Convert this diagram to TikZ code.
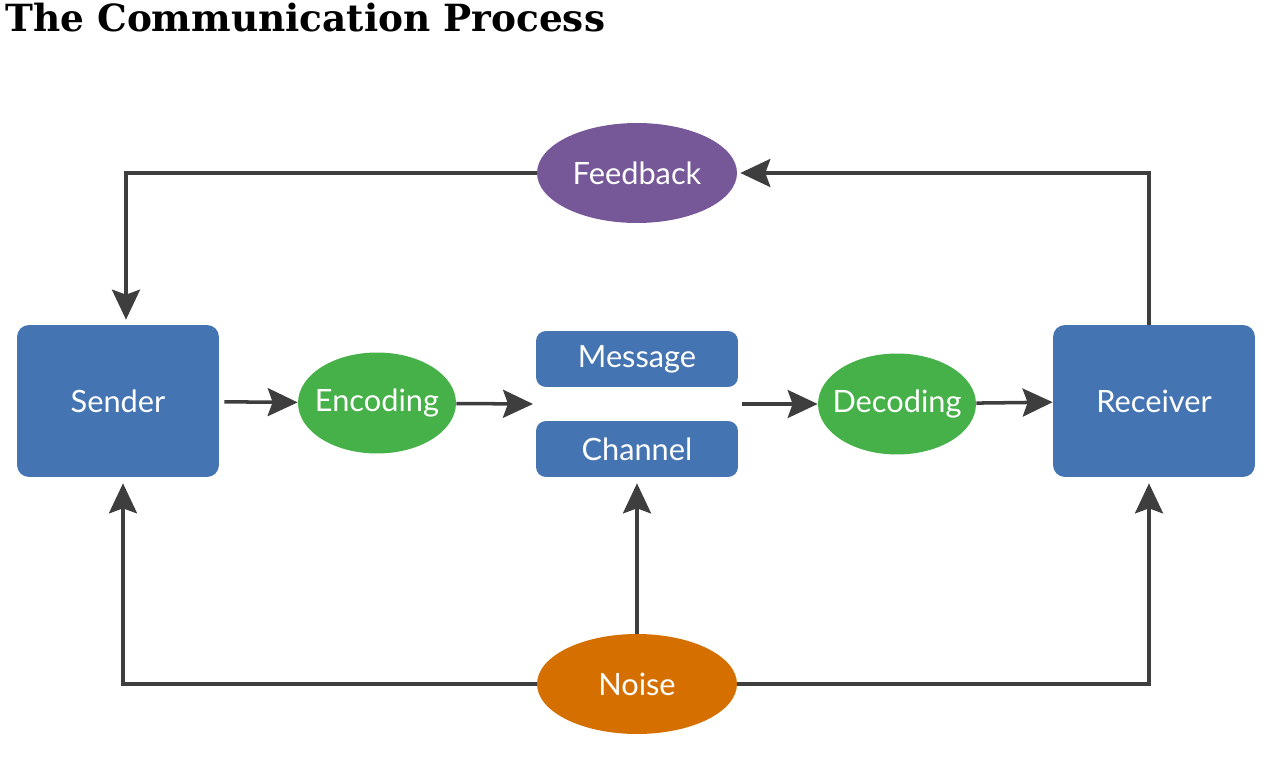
\documentclass[tikz,border=0pt]{standalone}
\usepackage{fontspec}
\setmainfont{DejaVu Serif}
\newfontfamily\labelfont{Lato}
\usetikzlibrary{arrows.meta,shapes.geometric}

\definecolor{boxblue}{HTML}{4574B2}
\definecolor{codegreen}{HTML}{46B149}
\definecolor{fbpurple}{HTML}{765797}
\definecolor{noiseorange}{HTML}{D57000}
\definecolor{linegray}{HTML}{3E3E3E}

\begin{document}
\begin{tikzpicture}[
    x=0.02cm, y=-0.02cm,
    every node/.style={text=white, font=\labelfont\fontsize{17.5}{21}\selectfont},
    box/.style={rectangle, rounded corners=2.4mm, fill=boxblue, minimum width=4.04cm, minimum height=3.04cm, inner sep=0pt},
    bar/.style={box, rounded corners=2mm, minimum height=1.12cm},
    oval/.style={ellipse, fill=#1, minimum width=3.16cm, minimum height=2.02cm, inner xsep=-2mm, inner ysep=0pt},
    bigoval/.style={oval=#1, minimum width=4cm, minimum height=2cm},
    arrow/.style={draw=linegray, line width=2pt, -{Stealth[length=6mm, width=5.6mm, inset=1mm]}}
]

\useasboundingbox (0,0) rectangle (1282,767);

% ----- title -----
\node[anchor=base west, text=black, font=\bfseries\fontsize{21.3}{25}\selectfont, inner sep=0pt] (title) at (5,32) {The Communication Process};

% ----- middle row -----
\node[box] (sender) at (118,401) {Sender};
\node[oval=codegreen] (encoding) at (377,403) {Encoding};
\node[bar] (message) at (637,359) {Message};
\node[bar] (channel) at (637,449) {Channel};
\node[oval=codegreen] (decoding) at (897,404) {Decoding};
\node[box] (receiver) at (1154,401) {Receiver};

\coordinate (gapin) at (533,404);
\coordinate (gapout) at (742,404);

% ----- top and bottom -----
\node[bigoval=fbpurple] (feedback) at (637,173) {Feedback};
\node[bigoval=noiseorange] (noise) at (637,684) {Noise};

% ----- arrows -----
\draw[arrow, shorten <=1mm] (sender) -- (encoding);
\draw[arrow] (encoding) -- (gapin);
\draw[arrow] (gapout) -- (decoding);
\draw[arrow] (decoding) -- (receiver);

\draw[arrow, shorten >=0.6mm] ([xshift=-1mm]receiver.north) |- (feedback.east);
\draw[arrow, shorten >=1mm] (feedback.west) -| ([xshift=1.6mm]sender.north);

\draw[arrow, shorten >=1.2mm] (noise.west) -| ([xshift=1mm]sender.south);
\draw[arrow, shorten >=1.2mm] (noise.north) -- (channel.south);
\draw[arrow, shorten >=1.2mm] (noise.east) -| ([xshift=-1mm]receiver.south);

\end{tikzpicture}
\end{document}
